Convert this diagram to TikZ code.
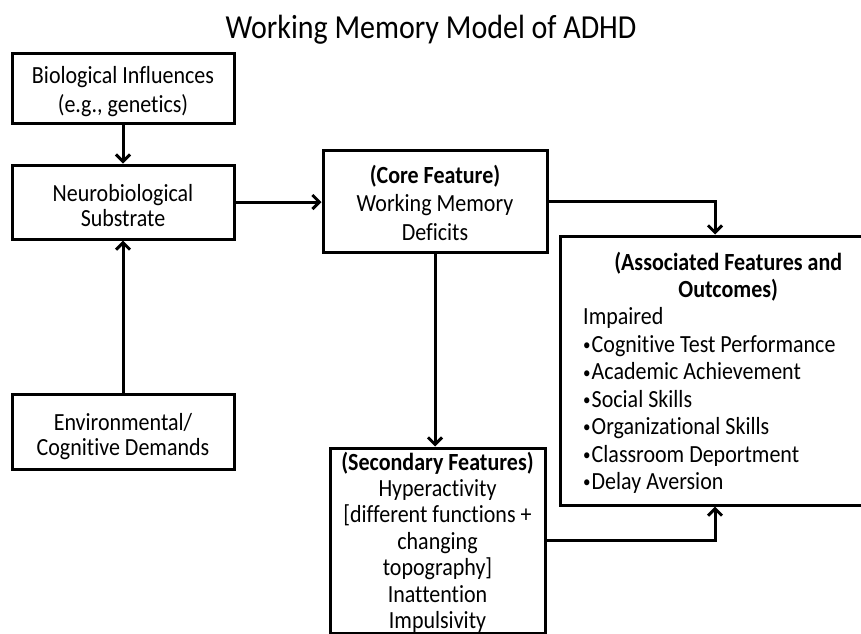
\documentclass[tikz,border=0pt]{standalone}
\usepackage{fontspec}
\setmainfont{Carlito}[Ligatures={NoCommon}]
\usetikzlibrary{arrows.meta}
\newcommand{\bxt}[3]{\raisebox{-#1}[\height][\depth]{\scalebox{1}[1.12]{\fontsize{22}{#2}\selectfont\begin{tabular}{@{}c@{}}#3\end{tabular}}}}
\newcommand{\blt}{\makebox[8.5pt][l]{\raisebox{1.5pt}{\fontsize{15}{15}\selectfont•}}}
\tikzset{
  box/.style={draw, line width=3pt, inner sep=0pt, align=center},
  arr/.style={line width=3pt, -{Straight Barb[length=7pt,width=14pt]}},
}
\begin{document}
\begin{tikzpicture}[x=1pt,y=-1pt]
\useasboundingbox (0,0) rectangle (861,633);
\clip (0,0) rectangle (861,633);
\node[anchor=base, inner sep=0pt] (title) at (431,38)
  {\scalebox{1}[1.12]{\fontsize{30}{34}\selectfont Working Memory Model of ADHD}};
\node[box, minimum width=222pt, minimum height=70pt] (bio) at (123,88)
  {\bxt{4.5pt}{26pt}{Biological Influences\\(e.g., genetics)}};
\node[box, minimum width=222pt, minimum height=74pt] (neuro) at (123,202)
  {\bxt{7pt}{22.3pt}{Neurobiological\\Substrate}};
\node[box, minimum width=222pt, minimum height=75pt] (env) at (123,431.5)
  {\bxt{6.5pt}{22.3pt}{Environmental/\\Cognitive Demands}};
\node[box, minimum width=224pt, minimum height=102pt] (core) at (435,201)
  {\bxt{5pt}{25.3pt}{\textbf{(Core Feature)}\\Working Memory\\Deficits}};
\node[box, minimum width=215pt, minimum height=183pt] (sec) at (437.5,540.5)
  {\bxt{3.5pt}{23.6pt}{\textbf{(Secondary Features)}\\Hyperactivity\\\relax[different functions +\\changing\\topography]\\Inattention\\Impulsivity}};
\node[box, minimum width=310pt, minimum height=269pt] (assoc) at (715,370.5) {};
\node[anchor=base west, inner sep=0pt] (assoctext) at (583,270)
  {\scalebox{1}[1.12]{\fontsize{22}{24.5}\selectfont\begin{minipage}[t]{290pt}
   \centering\textbf{(Associated Features and\\Outcomes)}\par
   \raggedright Impaired\\
   \blt Cognitive Test Performance\\
   \blt Academic Achievement\\
   \blt Social Skills\\
   \blt Organizational Skills\\
   \blt Classroom Deportment\\
   \blt Delay Aversion
   \end{minipage}}};
\draw[arr] (bio) -- (neuro);
\draw[arr] (env) -- (neuro);
\draw[arr] (neuro.east) -- (neuro.east -| core.west);
\draw[arr] (core.south) -- (core.south |- sec.north);
\draw[arr] (core.east) -| (assoc.north);
\draw[arr] (sec.east) -| (assoc.south);
\end{tikzpicture}
\end{document}
